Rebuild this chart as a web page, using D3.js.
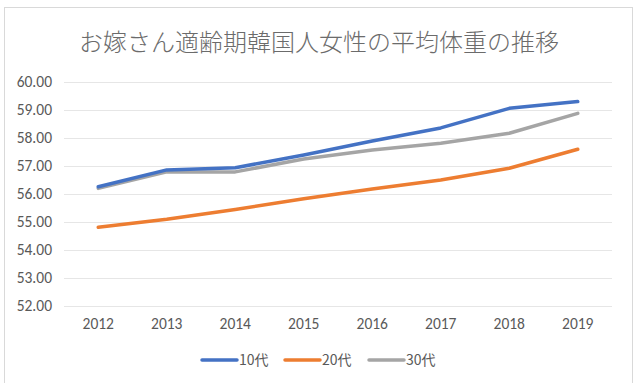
<!DOCTYPE html>
<html>
<head>
<meta charset="utf-8">
<script src="https://cdn.jsdelivr.net/npm/d3@7"></script>
<style>
  body { margin: 0; background: #fff; }
  text { font-family: Calibri, Carlito, "Noto Sans CJK JP", "Noto Sans", sans-serif; }
</style>
</head>
<body>
<div id="chart"></div>
<script>
var years   = ["2012", "2013", "2014", "2015", "2016", "2017", "2018", "2019"];
var teens   = [56.26, 56.86, 56.94, 57.39, 57.89, 58.36, 59.06, 59.30];
var twenties = [54.81, 55.10, 55.45, 55.83, 56.18, 56.50, 56.92, 57.60];
var thirties = [56.20, 56.79, 56.79, 57.25, 57.57, 57.81, 58.17, 58.88];
var seriesNames = ["10代", "20代", "30代"];
var yTicks  = [52, 53, 54, 55, 56, 57, 58, 59, 60];

var series = [
  { name: seriesNames[0], values: teens,    color: "#4472C4" },
  { name: seriesNames[1], values: twenties, color: "#ED7D31" },
  { name: seriesNames[2], values: thirties, color: "#A5A5A5" }
];

var width  = 641,
    height = 383;

var svg = d3.select("#chart")
  .append("svg")
  .attr("width", width)
  .attr("height", height);

// chart area border
svg.append("rect")
  .attr("x", 4.5).attr("y", 7.5)
  .attr("width", 628).attr("height", 390)
  .attr("fill", "#fff")
  .attr("stroke", "#D9D9D9");

svg.append("text")
  .attr("x", 319).attr("y", 51)
  .attr("text-anchor", "middle")
  .attr("font-size", "24px")
  .attr("fill", "#6b6b6b")
  .style("font-family", "'Noto Sans CJK JP', sans-serif")
  .style("font-weight", 300)
  .text("お嫁さん適齢期韓国人女性の平均体重の推移");

var x = d3.scaleBand()
  .domain(years)
  .range([64, 612]);

var y = d3.scaleLinear()
  .domain([52, 60])
  .range([306, 82]);

// gridlines
svg.append("g")
  .selectAll("line")
  .data(yTicks)
  .enter()
  .append("line")
  .attr("x1", 64).attr("x2", 612)
  .attr("y1", d => y(d) + 0.5)
  .attr("y2", d => y(d) + 0.5)
  .attr("stroke", "#E6E6E6")
  .attr("stroke-width", 1);

var yAxis = svg.append("g")
  .attr("transform", "translate(64,0)")
  .call(d3.axisLeft(y).tickValues(yTicks).tickFormat(d3.format(".2f")).tickSize(0).tickPadding(12));
yAxis.select(".domain").remove();
yAxis.selectAll("text")
  .attr("font-size", "15.5px")
  .attr("fill", "#595959")
  .style("font-family", "Carlito, Calibri, 'Liberation Sans', sans-serif");

var xAxis = svg.append("g")
  .attr("transform", "translate(0,306)")
  .call(d3.axisBottom(x).tickSize(0).tickPadding(12));
xAxis.select(".domain").remove();
xAxis.selectAll("text")
  .attr("font-size", "15.5px")
  .attr("fill", "#595959")
  .style("font-family", "Carlito, Calibri, 'Liberation Sans', sans-serif");

var line = d3.line()
  .x((d, i) => x(years[i]) + x.bandwidth() / 2)
  .y(d => y(d));

// draw back to front so blue sits on top
svg.append("g")
  .selectAll("path")
  .data(series.slice().reverse())
  .enter()
  .append("path")
  .attr("d", d => line(d.values))
  .attr("fill", "none")
  .attr("stroke", d => d.color)
  .attr("stroke-width", 3.5)
  .attr("stroke-linejoin", "round")
  .attr("stroke-linecap", "round");

// legend
var legendX = [202, 285, 369];
var legend = svg.append("g")
  .selectAll("g")
  .data(series)
  .enter()
  .append("g")
  .attr("transform", (d, i) => "translate(" + legendX[i] + ",360)");

legend.append("line")
  .attr("x1", 0).attr("x2", 35)
  .attr("y1", 0).attr("y2", 0)
  .attr("stroke", d => d.color)
  .attr("stroke-width", 3.5)
  .attr("stroke-linecap", "round");

legend.append("text")
  .attr("x", 37).attr("y", 5)
  .attr("font-size", "14px")
  .attr("fill", "#595959")
  .style("font-family", "'Noto Sans CJK JP', sans-serif")
  .text(d => d.name);
</script>
</body>
</html>
